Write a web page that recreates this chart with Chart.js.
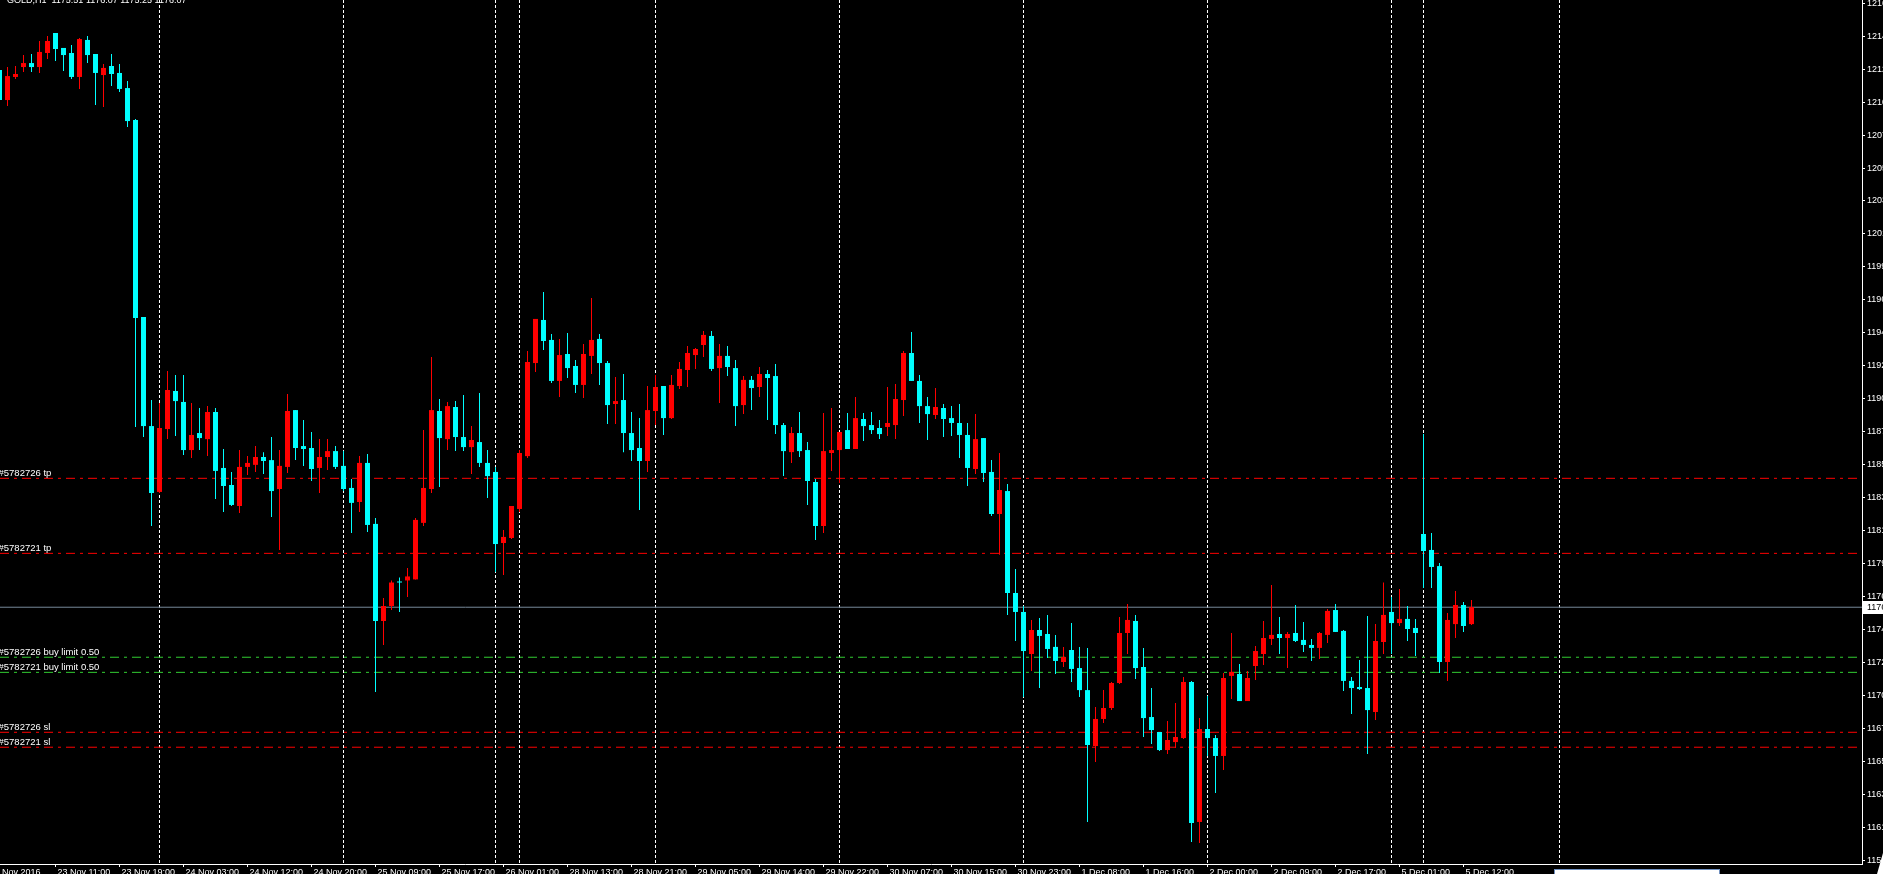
<!DOCTYPE html>
<html>
<head>
<meta charset="utf-8">
<title>GOLD,H1</title>
<script src="https://cdn.jsdelivr.net/npm/chart.js@4.4.1/dist/chart.umd.min.js"></script>
<style>
  html, body { margin: 0; padding: 0; background: #000; overflow: hidden; }
  #wrap { width: 1883px; height: 874px; }
</style>
</head>
<body>
<div id="wrap"><canvas id="chart" width="1883" height="874"></canvas></div>
<script>
// GOLD H1 candles (one value per bar, left to right)
const opens = [
  1212.37, 1210.34, 1211.90, 1212.57, 1212.84, 1212.57, 1213.52, 1214.87, 1213.86, 1213.52,
  1211.90, 1214.40, 1213.45, 1212.03, 1212.64, 1212.17, 1211.15, 1208.99, 1195.68, 1188.31,
  1183.86, 1188.11, 1190.68, 1189.94, 1186.69, 1187.84, 1187.43, 1189.26, 1185.48, 1184.33,
  1182.91, 1185.55, 1185.69, 1186.22, 1186.01, 1184.06, 1185.55, 1189.39, 1186.96, 1186.83,
  1185.48, 1186.22, 1186.62, 1185.62, 1184.13, 1183.18, 1185.82, 1181.70, 1175.14, 1176.15,
  1177.81, 1177.88, 1177.95, 1181.77, 1184.06, 1189.33, 1187.43, 1189.60, 1187.57, 1186.89,
  1187.23, 1185.82, 1185.21, 1180.41, 1180.75, 1182.71, 1186.28, 1192.57, 1195.48, 1194.13,
  1191.36, 1193.18, 1192.37, 1191.09, 1193.05, 1194.20, 1192.57, 1189.80, 1190.07, 1187.84,
  1186.83, 1185.95, 1189.33, 1191.02, 1188.85, 1191.02, 1192.10, 1193.11, 1193.79, 1194.40,
  1192.23, 1193.05, 1192.23, 1189.73, 1191.43, 1190.95, 1191.83, 1191.69, 1188.38, 1186.55,
  1187.84, 1186.69, 1184.53, 1181.56, 1186.49, 1186.69, 1188.04, 1186.76, 1188.79, 1188.38,
  1188.18, 1188.25, 1188.38, 1190.07, 1193.25, 1191.36, 1189.66, 1189.06, 1189.53, 1188.85,
  1188.52, 1187.71, 1185.41, 1187.50, 1185.21, 1182.37, 1183.92, 1177.03, 1175.75, 1172.91,
  1174.53, 1174.26, 1173.39, 1172.37, 1173.18, 1171.96, 1170.47, 1166.69, 1168.52, 1169.26,
  1170.95, 1174.33, 1175.14, 1172.03, 1168.65, 1167.64, 1166.42, 1166.96, 1167.23, 1171.02,
  1161.56, 1167.84, 1167.23, 1166.02, 1171.43, 1171.56, 1169.73, 1172.10, 1172.91, 1173.93,
  1174.26, 1173.99, 1174.33, 1173.86, 1173.52, 1173.32, 1174.20, 1175.88, 1174.47, 1171.09,
  1170.68, 1170.61, 1168.99, 1173.72, 1175.75, 1175.00, 1175.28, 1174.67, 1181.02, 1179.94,
  1178.85, 1172.37, 1174.93, 1176.22, 1174.93
];
const highs = [
  1212.51, 1212.57, 1212.64, 1213.38, 1213.45, 1214.33, 1214.67, 1214.87, 1213.86, 1214.06,
  1214.53, 1214.67, 1213.45, 1212.78, 1213.45, 1212.78, 1211.63, 1209.06, 1195.68, 1190.07,
  1189.87, 1192.03, 1191.76, 1191.76, 1189.87, 1189.53, 1189.66, 1189.53, 1186.76, 1185.21,
  1186.69, 1186.28, 1186.96, 1186.55, 1187.57, 1186.69, 1190.48, 1189.39, 1188.72, 1187.91,
  1187.43, 1187.43, 1186.96, 1186.62, 1184.74, 1186.28, 1186.42, 1182.10, 1176.70, 1177.88,
  1178.08, 1178.72, 1182.10, 1188.04, 1192.98, 1190.14, 1189.94, 1190.00, 1190.41, 1188.31,
  1190.54, 1186.69, 1185.55, 1181.29, 1182.91, 1186.69, 1193.38, 1195.55, 1197.37, 1194.53,
  1194.20, 1194.60, 1192.78, 1193.86, 1196.96, 1194.53, 1192.71, 1191.63, 1191.83, 1189.26,
  1188.85, 1191.02, 1191.76, 1191.02, 1191.76, 1192.64, 1193.72, 1193.59, 1194.74, 1194.74,
  1193.86, 1193.72, 1192.78, 1191.69, 1191.69, 1192.30, 1192.10, 1192.50, 1188.52, 1188.25,
  1189.26, 1187.23, 1184.74, 1189.19, 1189.53, 1187.91, 1189.19, 1190.27, 1189.19, 1189.26,
  1188.72, 1190.95, 1191.16, 1193.38, 1194.67, 1191.76, 1190.27, 1190.88, 1189.80, 1189.66,
  1189.80, 1188.52, 1189.12, 1187.50, 1186.01, 1186.49, 1184.40, 1178.65, 1176.15, 1175.21,
  1175.34, 1175.55, 1174.20, 1173.39, 1175.00, 1173.39, 1173.32, 1169.33, 1170.47, 1171.02,
  1175.41, 1176.29, 1175.55, 1173.32, 1170.61, 1167.64, 1168.38, 1169.60, 1171.36, 1171.09,
  1168.58, 1170.07, 1167.43, 1171.63, 1174.33, 1172.24, 1171.76, 1173.45, 1175.14, 1177.57,
  1175.41, 1174.40, 1176.22, 1175.07, 1173.93, 1174.40, 1175.95, 1176.29, 1174.53, 1171.36,
  1172.51, 1175.48, 1174.93, 1177.74, 1176.76, 1177.30, 1176.15, 1175.28, 1187.77, 1181.09,
  1179.06, 1175.68, 1177.17, 1176.42, 1176.56
];
const lows = [
  1210.07, 1209.93, 1211.76, 1212.24, 1212.24, 1212.17, 1213.11, 1212.98, 1212.30, 1211.76,
  1211.09, 1212.84, 1210.00, 1209.87, 1211.29, 1210.88, 1208.52, 1188.25, 1187.57, 1181.56,
  1183.79, 1187.43, 1187.64, 1186.35, 1186.15, 1186.69, 1186.28, 1183.39, 1182.51, 1182.91,
  1182.44, 1185.00, 1185.21, 1185.07, 1182.17, 1179.94, 1185.14, 1186.01, 1185.62, 1184.60,
  1183.79, 1185.35, 1185.41, 1183.92, 1181.09, 1182.51, 1181.16, 1170.34, 1173.52, 1175.88,
  1175.75, 1176.76, 1177.95, 1181.56, 1183.79, 1184.19, 1186.69, 1186.62, 1186.62, 1185.07,
  1185.55, 1183.45, 1178.45, 1178.24, 1180.68, 1182.51, 1186.15, 1191.96, 1193.45, 1191.22,
  1190.27, 1191.56, 1190.54, 1190.20, 1191.83, 1191.09, 1188.45, 1188.45, 1186.55, 1185.95,
  1182.64, 1185.21, 1188.38, 1187.71, 1188.79, 1190.82, 1190.95, 1192.17, 1192.98, 1192.03,
  1189.87, 1191.69, 1188.31, 1189.12, 1189.39, 1190.27, 1188.72, 1187.77, 1184.93, 1185.82,
  1186.22, 1182.98, 1180.61, 1181.09, 1185.28, 1184.46, 1186.76, 1186.76, 1187.30, 1187.77,
  1187.43, 1187.64, 1187.43, 1188.99, 1191.36, 1188.52, 1187.37, 1188.79, 1187.57, 1187.64,
  1186.15, 1184.26, 1185.07, 1184.53, 1182.24, 1179.61, 1175.55, 1173.79, 1170.01, 1171.76,
  1170.61, 1172.64, 1171.56, 1172.03, 1171.02, 1170.01, 1161.56, 1165.62, 1168.25, 1169.12,
  1170.88, 1172.91, 1171.22, 1167.30, 1166.83, 1166.36, 1166.15, 1166.56, 1167.16, 1160.20,
  1160.14, 1166.02, 1163.52, 1165.07, 1169.87, 1169.73, 1169.73, 1171.16, 1172.17, 1173.52,
  1172.91, 1171.96, 1173.72, 1173.05, 1172.44, 1172.57, 1173.66, 1174.40, 1170.41, 1168.85,
  1170.47, 1166.15, 1168.45, 1172.91, 1172.91, 1174.80, 1173.79, 1172.78, 1177.37, 1177.37,
  1171.63, 1171.09, 1173.99, 1174.40, 1174.87
];
const closes = [
  1210.34, 1211.96, 1212.10, 1212.84, 1212.57, 1213.59, 1214.33, 1213.79, 1213.38, 1211.90,
  1214.46, 1213.38, 1212.17, 1212.51, 1212.10, 1211.09, 1208.92, 1195.61, 1188.31, 1183.79,
  1188.18, 1190.75, 1190.00, 1186.69, 1187.71, 1187.50, 1189.26, 1185.28, 1184.26, 1182.98,
  1185.55, 1185.82, 1186.22, 1185.95, 1183.92, 1185.62, 1189.33, 1186.83, 1186.76, 1185.41,
  1186.22, 1186.62, 1185.55, 1184.06, 1183.12, 1185.82, 1181.63, 1175.14, 1176.15, 1177.74,
  1177.74, 1178.15, 1181.97, 1184.13, 1189.39, 1187.50, 1189.66, 1187.57, 1186.89, 1187.37,
  1185.82, 1184.93, 1180.34, 1180.82, 1182.91, 1186.49, 1192.64, 1195.55, 1194.06, 1191.36,
  1193.11, 1192.23, 1191.09, 1193.18, 1194.13, 1192.57, 1189.73, 1190.00, 1187.84, 1186.69,
  1185.95, 1189.39, 1190.95, 1188.85, 1191.09, 1192.17, 1193.25, 1193.52, 1194.47, 1192.17,
  1193.05, 1192.30, 1189.66, 1191.43, 1190.88, 1191.83, 1191.56, 1188.38, 1186.62, 1187.84,
  1186.62, 1184.60, 1181.56, 1186.62, 1186.69, 1187.91, 1186.76, 1188.85, 1188.31, 1188.04,
  1187.77, 1188.52, 1190.14, 1193.25, 1191.36, 1189.66, 1189.12, 1189.60, 1188.79, 1188.52,
  1187.71, 1185.48, 1187.43, 1185.14, 1182.37, 1183.99, 1177.03, 1175.75, 1173.11, 1174.53,
  1174.13, 1173.25, 1172.44, 1172.71, 1171.90, 1170.47, 1166.76, 1168.52, 1169.26, 1170.95,
  1174.33, 1175.21, 1171.96, 1168.58, 1167.77, 1166.42, 1167.10, 1167.30, 1171.02, 1161.49,
  1167.84, 1167.23, 1166.02, 1171.29, 1171.70, 1169.73, 1171.29, 1173.11, 1173.99, 1174.20,
  1173.99, 1174.26, 1173.79, 1173.52, 1173.32, 1174.33, 1175.82, 1174.40, 1171.09, 1170.61,
  1170.54, 1169.12, 1173.79, 1175.55, 1175.00, 1175.28, 1174.60, 1174.33, 1179.87, 1178.79,
  1172.37, 1175.21, 1176.22, 1174.80, 1176.08
];

// price scale labels on the right edge (only the first digits survive the crop)
const priceTicks = [
  1216.88, 1214.65, 1212.43, 1210.20, 1207.97, 1205.74, 1203.52, 1201.29, 1199.06,
  1196.84, 1194.61, 1192.38, 1190.15, 1187.93, 1185.70, 1183.47, 1181.24, 1179.02,
  1176.79, 1174.56, 1172.33, 1170.11, 1167.88, 1165.65, 1163.42, 1161.20, 1158.97
];
// time labels, given as bar index
const timeTickBars = [-1.5, 7, 15, 23, 31, 39, 47, 55, 63, 71, 79, 87, 95, 103, 111, 119, 127, 135, 143, 151, 159, 167, 175, 183];
const timeTickLabels = [
  '23 Nov 2016', '23 Nov 11:00', '23 Nov 19:00', '24 Nov 03:00', '24 Nov 12:00', '24 Nov 20:00',
  '25 Nov 09:00', '25 Nov 17:00', '26 Nov 01:00', '28 Nov 13:00', '28 Nov 21:00', '29 Nov 05:00',
  '29 Nov 14:00', '29 Nov 22:00', '30 Nov 07:00', '30 Nov 15:00', '30 Nov 23:00', '1 Dec 08:00',
  '1 Dec 16:00', '2 Dec 00:00', '2 Dec 09:00', '2 Dec 17:00', '5 Dec 01:00', '5 Dec 12:00'
];
// period separators (bar index)
const separatorBars = [20, 43, 62, 65, 82, 105, 128, 151, 174, 178, 195];

// pending orders
const orderPrices = [1184.78, 1179.71, 1172.69, 1171.67, 1167.62, 1166.61];
const orderKinds  = ['tp', 'tp', 'limit', 'limit', 'sl', 'sl'];
const orderTexts  = ['#5782726 tp', '#5782721 tp', '#5782726 buy limit 0.50', '#5782721 buy limit 0.50', '#5782726 sl', '#5782721 sl'];
const bidPrice = 1176.07;
const titleText = 'GOLD,H1  1175.51 1176.07 1175.25 1176.07';

// visible window
const X_MIN = 0.0625, X_MAX = 232.8125;
const Y_MIN = 1158.72, Y_MAX = 1217.10;

const UP = '#ff0000', DOWN = '#00ffff';
const FONT = '"Liberation Sans", Arial, sans-serif';

const barIdx = opens.map((_, i) => i);
const candleColor = ctx => (closes[ctx.dataIndex] > opens[ctx.dataIndex] ? UP : DOWN);

const hLine = (price, color, dash) => ({
  type: 'line',
  data: [{ x: X_MIN, y: price }, { x: X_MAX, y: price }],
  borderColor: color, borderWidth: 1, borderDash: dash,
  pointRadius: 0, fill: false, order: 3
});
const vLine = bar => ({
  type: 'line',
  data: [{ x: bar, y: Y_MAX }, { x: bar, y: Y_MIN }],
  borderColor: '#ffffff', borderWidth: 1, borderDash: [3, 2],
  pointRadius: 0, fill: false, order: 4
});

const kindColor = { tp: '#ff0000', sl: '#ff0000', limit: '#32cd32' };

const datasets = [
  {
    data: barIdx.map(i => ({ x: i, y: [opens[i], closes[i]] })),
    backgroundColor: candleColor, borderWidth: 0, barThickness: 5,
    minBarLength: 1, grouped: false, inflateAmount: 0, order: 0
  },
  {
    data: barIdx.map(i => ({ x: i, y: [lows[i], highs[i]] })),
    backgroundColor: candleColor, borderWidth: 0, barThickness: 1,
    minBarLength: 1, grouped: false, inflateAmount: 0, order: 1
  },
  hLine(bidPrice, '#778899', []),
  ...orderPrices.map((p, k) => hLine(p, kindColor[orderKinds[k]], [9, 5, 3, 5])),
  ...separatorBars.map(vLine)
];

// texts that MT4 puts on top of the chart
const overlay = {
  id: 'mt4Overlay',
  afterDraw(chart) {
    const { ctx, chartArea, scales: { y } } = chart;
    ctx.save();
    ctx.fillStyle = '#ffffff';
    ctx.textBaseline = 'alphabetic';
    ctx.font = '9px ' + FONT;
    ctx.fillText(titleText, 7, 2.5);
    ctx.font = '9.5px ' + FONT;
    orderTexts.forEach((t, k) => {
      ctx.fillText(t, -1.5, Math.round(y.getPixelForValue(orderPrices[k])) - 2);
    });

    // bid price tag on the price scale
    ctx.font = '9px ' + FONT;
    const by = Math.round(y.getPixelForValue(bidPrice));
    ctx.fillRect(chartArea.right + 1, by - 6, 30, 13);
    ctx.fillStyle = '#000000';
    ctx.textBaseline = 'middle';
    ctx.fillText(bidPrice.toFixed(2), chartArea.right + 5, by + 0.5);

    // little date box and corner mark at the bottom edge
    ctx.fillStyle = '#ffffff';
    ctx.fillRect(1554, 869, 166, 6);
    ctx.strokeStyle = '#6f8fbf';
    ctx.strokeRect(1554.5, 869.5, 165, 6);
    ctx.beginPath();
    ctx.moveTo(1883, 853);
    ctx.lineTo(1883, 874);
    ctx.lineTo(1877, 874);
    ctx.closePath();
    ctx.fill();
    ctx.restore();
  }
};

Chart.defaults.font.family = FONT;
Chart.defaults.font.size = 9;

new Chart(document.getElementById('chart'), {
  type: 'bar',
  data: { datasets },
  plugins: [overlay],
  options: {
    responsive: false,
    animation: false,
    devicePixelRatio: 1,
    layout: { padding: 0, autoPadding: false },
    plugins: { legend: { display: false }, tooltip: { enabled: false } },
    scales: {
      x: {
        type: 'linear', min: X_MIN, max: X_MAX, offset: false,
        afterBuildTicks: s => { s.ticks = timeTickBars.map(v => ({ value: v })); },
        afterFit: s => { s.height = 10; s.paddingLeft = 0; s.paddingRight = 0; },
        grid: { drawOnChartArea: false, drawTicks: true, tickLength: 3, color: '#ffffff', offset: false },
        border: { display: true, color: '#ffffff' },
        ticks: {
          color: '#ffffff', padding: 0, align: 'start', labelOffset: 2,
          maxRotation: 0, autoSkip: false,
          callback: (v, i) => timeTickLabels[i]
        }
      },
      y: {
        type: 'linear', position: 'right', min: Y_MIN, max: Y_MAX,
        afterBuildTicks: s => { s.ticks = priceTicks.map(v => ({ value: v })); },
        afterFit: s => { s.width = 21; s.paddingTop = 0; s.paddingBottom = 0; },
        grid: { drawOnChartArea: false, drawTicks: true, tickLength: 3, color: '#ffffff' },
        border: { display: true, color: '#ffffff' },
        ticks: {
          color: '#ffffff', padding: 2, autoSkip: false,
          callback: v => v.toFixed(2)
        }
      }
    }
  }
});
</script>
</body>
</html>
